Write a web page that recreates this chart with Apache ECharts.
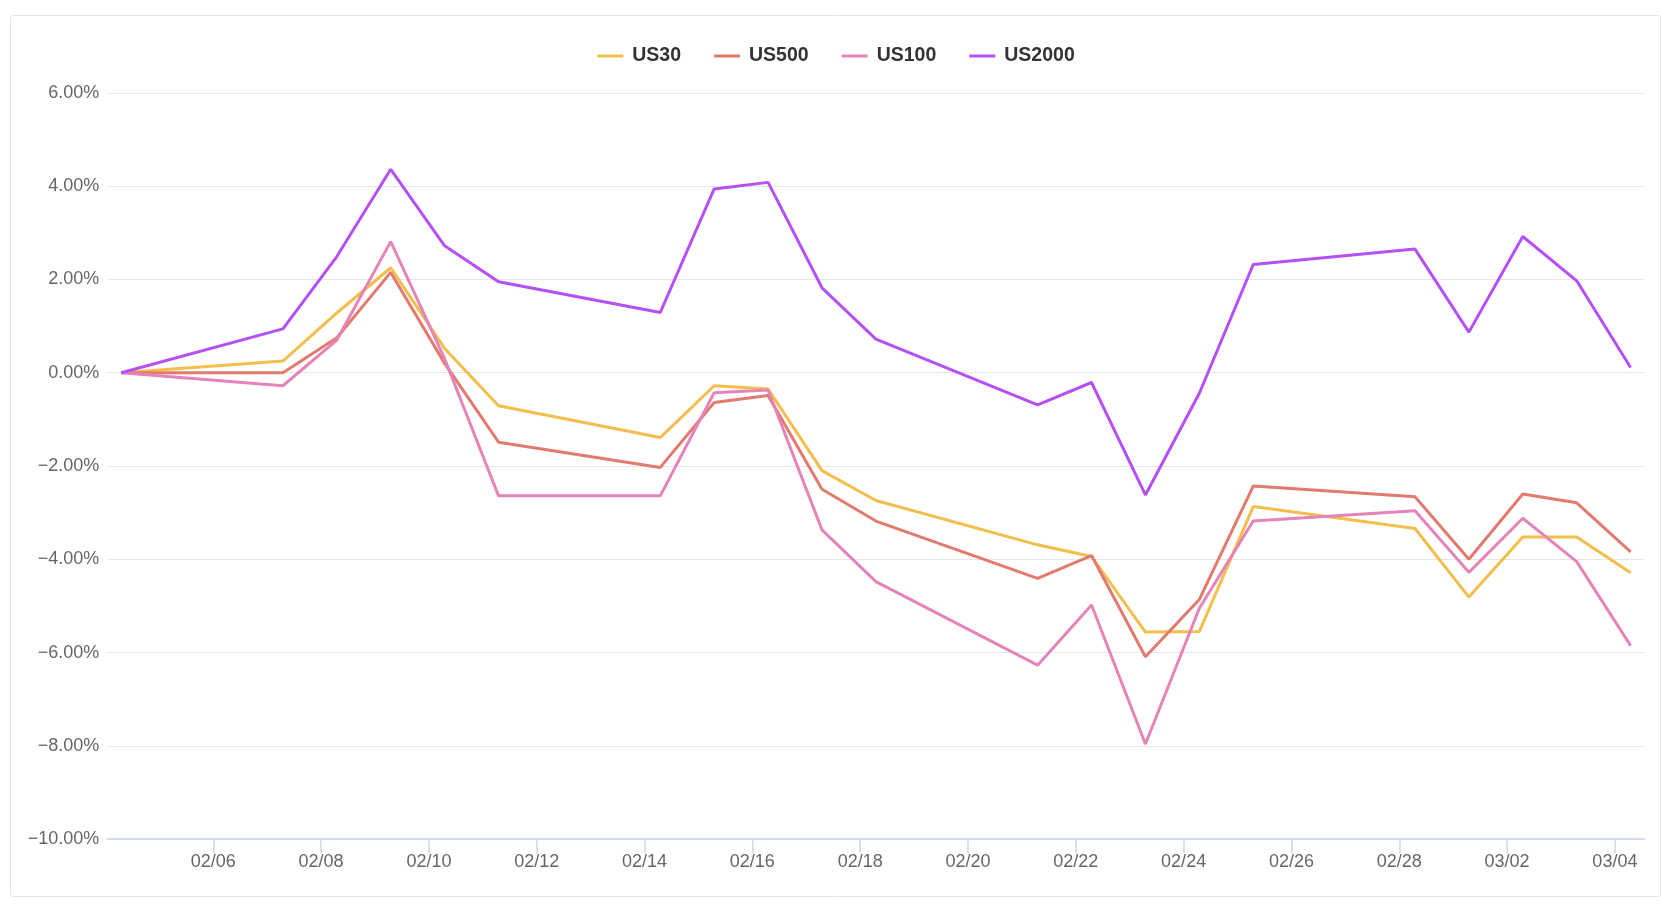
<!DOCTYPE html>
<html>
<head>
<meta charset="utf-8">
<script src="https://cdn.jsdelivr.net/npm/echarts@6/dist/echarts.min.js"></script>
<style>
html,body{margin:0;padding:0;background:#ffffff;}
#chart{width:1672px;height:910px;}
</style>
</head>
<body>
<div id="chart"></div>
<script>
// ---- data ----
const dates = ['2022-02-04','2022-02-07','2022-02-08','2022-02-09','2022-02-10','2022-02-11',
  '2022-02-14','2022-02-15','2022-02-16','2022-02-17','2022-02-18','2022-02-21','2022-02-22',
  '2022-02-23','2022-02-24','2022-02-25','2022-02-28','2022-03-01','2022-03-02','2022-03-03','2022-03-04'];
const sampleTime = 'T07:00:00Z';
const seriesNames = ['US30','US500','US100','US2000'];
const us30   = [0, 0.25, 1.28, 2.25, 0.52, -0.71, -1.39, -0.28, -0.35, -2.10, -2.74, -3.69, -3.94, -5.56, -5.55, -2.87, -3.34, -4.81, -3.52, -3.52, -4.29];
const us500  = [0, 0.00, 0.75, 2.15, 0.20, -1.49, -2.03, -0.64, -0.49, -2.50, -3.18, -4.41, -3.92, -6.09, -4.86, -2.43, -2.66, -4.00, -2.60, -2.79, -3.84];
const us100  = [0, -0.28, 0.70, 2.81, 0.30, -2.64, -2.64, -0.43, -0.37, -3.37, -4.48, -6.27, -4.98, -7.96, -5.05, -3.18, -2.96, -4.28, -3.12, -4.05, -5.85];
const us2000 = [0, 0.94, 2.49, 4.36, 2.72, 1.95, 1.29, 3.94, 4.08, 1.82, 0.72, -0.69, -0.21, -2.62, -0.44, 2.32, 2.65, 0.87, 2.92, 1.97, 0.11];
const xTickDates = ['2022-02-06','2022-02-08','2022-02-10','2022-02-12','2022-02-14','2022-02-16',
  '2022-02-18','2022-02-20','2022-02-22','2022-02-24','2022-02-26','2022-02-28','2022-03-02','2022-03-04'];
const yMin = -10, yMax = 6, yStep = 2;
const colors = ['#f3be4b','#e27a6e','#e584b8','#b450f5'];

// ---- build ----
const ts = dates.map(d => Date.parse(d + sampleTime));
const tickTs = xTickDates.map(d => Date.parse(d + 'T00:00:00Z'));
const allValues = [us30, us500, us100, us2000];
const pad = 0.0092;
const pad2 = n => (n < 10 ? '0' : '') + n;
const fmtDate = v => { const d = new Date(v); return pad2(d.getUTCMonth() + 1) + '/' + pad2(d.getUTCDate()); };
const fmtPct = v => (v < 0 ? '\u2212' : '') + Math.abs(v).toFixed(2) + '%';
const FONT = '"Liberation Sans", Arial, Helvetica, sans-serif';

const chart = echarts.init(document.getElementById('chart'), null, {renderer: 'canvas'});
chart.setOption({
  backgroundColor: '#ffffff',
  animation: false,
  color: colors,
  graphic: [{
    type: 'rect', silent: true, z: -10,
    shape: {x: 10.5, y: 15.5, width: 1650, height: 881, r: 2},
    style: {fill: 'none', stroke: '#dfe6e6', lineWidth: 1}
  }],
  legend: {
    top: 46, left: 'center', padding: 0,
    icon: 'rect', itemWidth: 26, itemHeight: 3, itemGap: 33,
    textStyle: {fontFamily: FONT, fontSize: 19.5, fontWeight: 'bold', color: '#333333', padding: [0, 0, 0, 4]},
    data: seriesNames
  },
  grid: {left: 107.3, right: 27.5, top: 92.8, bottom: 70.8, containLabel: false},
  xAxis: {
    type: 'value',
    min: e => e.min - pad * (e.max - e.min),
    max: e => e.max + pad * (e.max - e.min),
    splitLine: {show: false},
    axisLine: {show: true, onZero: false, lineStyle: {color: '#ccd6eb', width: 1.5}},
    axisTick: {show: true, customValues: tickTs, length: 14, lineStyle: {color: '#ccd6eb', width: 1.5}},
    axisLabel: {customValues: tickTs, formatter: fmtDate, margin: 14, fontFamily: FONT, fontSize: 18, color: '#666666', hideOverlap: false}
  },
  yAxis: {
    type: 'value', min: yMin, max: yMax, interval: yStep,
    axisLine: {show: false}, axisTick: {show: false},
    splitLine: {show: true, lineStyle: {color: '#e6e6e6', width: 1}},
    axisLabel: {formatter: fmtPct, margin: 8, fontFamily: FONT, fontSize: 18, color: '#666666'}
  },
  series: seriesNames.map((name, i) => ({
    name: name, type: 'line', showSymbol: false, symbol: 'none',
    lineStyle: {width: 3, color: colors[i]},
    itemStyle: {color: colors[i]},
    data: ts.map((t, k) => [t, allValues[i][k]])
  }))
});
</script>
</body>
</html>
